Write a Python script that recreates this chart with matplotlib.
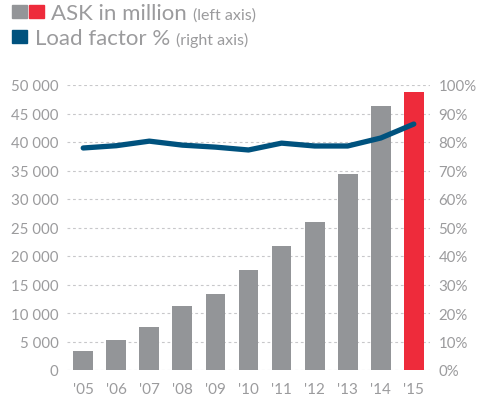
import matplotlib
matplotlib.use("Agg")
import matplotlib.pyplot as plt
from matplotlib.patches import Rectangle

plt.rcParams['font.family'] = ['Lato', 'DejaVu Sans']

years = ["'05", "'06", "'07", "'08", "'09", "'10", "'11", "'12", "'13", "'14", "'15"]
ask_million = [3300, 5200, 7500, 11300, 13400, 17600, 21800, 25900, 34300, 46400, 48800]
load_factor = [77.9, 78.7, 80.3, 78.9, 78.2, 77.2, 79.6, 78.6, 78.6, 81.4, 86.3]

left_ticks = [0, 5000, 10000, 15000, 20000, 25000, 30000, 35000, 40000, 45000, 50000]
right_ticks = [0, 10, 20, 30, 40, 50, 60, 70, 80, 90, 100]

GREY = '#939598'
RED = '#EE2B3B'
NAVY = '#00527E'
TEXT = '#9B9B9D'
GRID = '#C8C8CA'

fig = plt.figure(figsize=(4.8, 4.06), dpi=100)
ax = fig.add_axes([67 / 480, 1 - 371 / 406, (430 - 67) / 480, (371 - 86) / 406])
ax2 = ax.twinx()

x = list(range(len(years)))
colors = [GREY] * (len(years) - 1) + [RED]
ax.bar(x, ask_million, width=0.6, color=colors, zorder=2)

ax.set_xlim(-0.49, len(years) - 0.51)
ax.set_ylim(0, 50000)
ax.set_yticks(left_ticks)
ax.set_yticklabels([f"{v:,}".replace(",", " ") for v in left_ticks])
ax.set_xticks(x)
ax.set_xticklabels(years)
for t in left_ticks:
    ax.axhline(t, color=GRID, lw=0.8, ls=(0, (2.5, 2.5)), zorder=1)

ax2.plot(x, load_factor, color=NAVY, lw=3.8, solid_capstyle='round',
         solid_joinstyle='round', zorder=3)
ax2.set_ylim(0, 100)
ax2.set_yticks(right_ticks)
ax2.set_yticklabels([f"{v}%" for v in right_ticks])

for a in (ax, ax2):
    for s in a.spines.values():
        s.set_visible(False)
    a.tick_params(length=0, colors=TEXT, labelsize=10.8)
ax.tick_params(axis='y', pad=6)
ax2.tick_params(axis='y', pad=6)
ax.tick_params(axis='x', pad=9, labelsize=11)

# legend drawn by hand at the top
fig.patches.append(Rectangle((12 / 480, 1 - 19 / 406), 15 / 480, 13 / 406,
                             transform=fig.transFigure, color=GREY))
fig.patches.append(Rectangle((29 / 480, 1 - 19 / 406), 15 / 480, 13 / 406,
                             transform=fig.transFigure, color=RED))
fig.patches.append(Rectangle((12 / 480, 1 - 44 / 406), 15 / 480, 13 / 406,
                             transform=fig.transFigure, color=NAVY))
t1 = fig.text(51 / 480, 1 - 20 / 406, "ASK in million", fontsize=16, color=TEXT)
t2 = fig.text(35 / 480, 1 - 45 / 406, "Load factor %", fontsize=16, color=TEXT)

# put the small axis notes right after each legend label
fig.canvas.draw()
r = fig.canvas.get_renderer()
for main, note in ((t1, "(left axis)"), (t2, "(right axis)")):
    bb = main.get_window_extent(r)
    fig.text((bb.x1 + 6) / 480, main.get_position()[1], note,
             fontsize=11.5, color=TEXT)

fig.savefig("out.png", dpi=100)
